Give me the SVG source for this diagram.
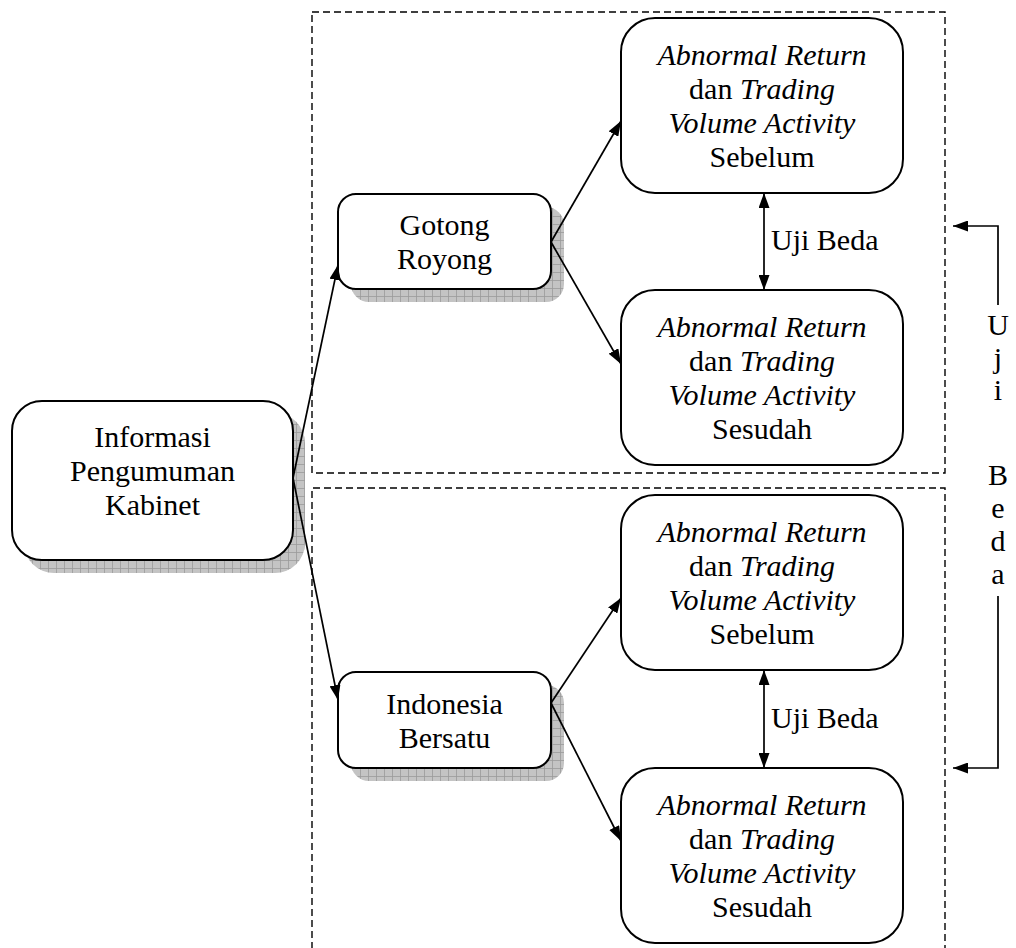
<svg xmlns="http://www.w3.org/2000/svg" width="1016" height="948" viewBox="0 0 1016 948">
<style>
.box{fill:#fff;stroke:#000;stroke-width:2}
.shadow{fill:url(#grid)}
.dash{fill:none;stroke:#000;stroke-width:1.4;stroke-dasharray:7 4}
.conn{fill:none;stroke:#000;stroke-width:1.7}
text{font-family:"Liberation Serif","Times New Roman",serif;font-size:30px;fill:#000}
.c{text-anchor:middle}
.i{font-style:italic}
</style>
<defs>
<pattern id="grid" width="8" height="8" patternUnits="userSpaceOnUse">
<rect width="8" height="8" fill="#c4c4c4"/>
<path d="M0,0.5H8M0.5,0V8" stroke="#9a9a9a" stroke-width="0.8"/>
</pattern>
<marker id="ah" viewBox="0 0 15 11" refX="15" refY="5.5" markerWidth="15" markerHeight="11" markerUnits="userSpaceOnUse" orient="auto-start-reverse">
<path d="M0,0L15,5.5L0,11z" fill="#000"/>
</marker>
</defs>

<g id="groups">
<rect class="dash" x="312" y="12" width="633" height="461"/>
<path class="dash" d="M312,960V488H945V960"/>
</g>

<g id="informasi">
<rect class="shadow" x="24" y="413" width="281" height="160" rx="30"/>
<rect class="box" x="12" y="401" width="281" height="159" rx="30"/>
<text class="c" x="152.5" y="447">Informasi</text>
<text class="c" x="152.5" y="481">Pengumuman</text>
<text class="c" x="152.5" y="515">Kabinet</text>
</g>

<g id="gotong">
<rect class="shadow" x="351" y="207" width="213" height="95" rx="18"/>
<rect class="box" x="338" y="194" width="213" height="95" rx="18"/>
<text class="c" x="444.5" y="235">Gotong</text>
<text class="c" x="444.5" y="269">Royong</text>
</g>

<g id="indonesia">
<rect class="shadow" x="351" y="685" width="213" height="96" rx="18"/>
<rect class="box" x="338" y="672" width="213" height="96" rx="18"/>
<text class="c" x="444.5" y="714">Indonesia</text>
<text class="c" x="444.5" y="748">Bersatu</text>
</g>

<g id="sebelum1">
<rect class="box" x="621" y="18" width="282" height="175" rx="34"/>
<text class="c" x="762" y="65"><tspan class="i">Abnormal Return</tspan></text>
<text class="c" x="762" y="99">dan <tspan class="i">Trading</tspan></text>
<text class="c" x="762" y="133"><tspan class="i">Volume Activity</tspan></text>
<text class="c" x="762" y="167">Sebelum</text>
</g>

<g id="sesudah1">
<rect class="box" x="621" y="290" width="282" height="175" rx="34"/>
<text class="c" x="762" y="337"><tspan class="i">Abnormal Return</tspan></text>
<text class="c" x="762" y="371">dan <tspan class="i">Trading</tspan></text>
<text class="c" x="762" y="405"><tspan class="i">Volume Activity</tspan></text>
<text class="c" x="762" y="439">Sesudah</text>
</g>

<g id="sebelum2">
<rect class="box" x="621" y="495" width="282" height="175" rx="34"/>
<text class="c" x="762" y="542"><tspan class="i">Abnormal Return</tspan></text>
<text class="c" x="762" y="576">dan <tspan class="i">Trading</tspan></text>
<text class="c" x="762" y="610"><tspan class="i">Volume Activity</tspan></text>
<text class="c" x="762" y="644">Sebelum</text>
</g>

<g id="sesudah2">
<rect class="box" x="621" y="768" width="282" height="175" rx="34"/>
<text class="c" x="762" y="815"><tspan class="i">Abnormal Return</tspan></text>
<text class="c" x="762" y="849">dan <tspan class="i">Trading</tspan></text>
<text class="c" x="762" y="883"><tspan class="i">Volume Activity</tspan></text>
<text class="c" x="762" y="917">Sesudah</text>
</g>

<g id="connectors">
<path class="conn" d="M293,478L338,265" marker-end="url(#ah)"/>
<path class="conn" d="M293,478L338,700" marker-end="url(#ah)"/>
<path class="conn" d="M551,242L621,121" marker-end="url(#ah)"/>
<path class="conn" d="M551,242L621,364" marker-end="url(#ah)"/>
<path class="conn" d="M551,703L621,598" marker-end="url(#ah)"/>
<path class="conn" d="M551,703L621,841" marker-end="url(#ah)"/>
<path class="conn" d="M764,193V290" marker-start="url(#ah)" marker-end="url(#ah)"/>
<path class="conn" d="M764,670V768" marker-start="url(#ah)" marker-end="url(#ah)"/>
<path class="conn" d="M998,305V226H953" marker-end="url(#ah)"/>
<path class="conn" d="M998,596V768H953" marker-end="url(#ah)"/>
</g>

<g id="labels">
<text x="771" y="250">Uji Beda</text>
<text x="771" y="728">Uji Beda</text>
<text class="c" x="998" y="335">U</text>
<text class="c" x="998" y="368">j</text>
<text class="c" x="998" y="400">i</text>
<text class="c" x="998" y="485">B</text>
<text class="c" x="998" y="518">e</text>
<text class="c" x="998" y="551">d</text>
<text class="c" x="998" y="584">a</text>
</g>
</svg>
